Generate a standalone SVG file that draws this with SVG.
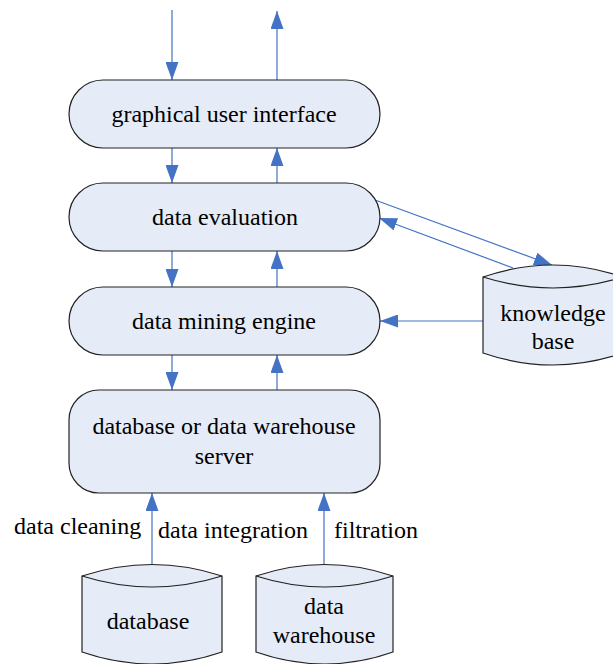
<svg xmlns="http://www.w3.org/2000/svg" width="613" height="664" viewBox="0 0 613 664">
  <style>
    .box { fill: #E6ECF7; stroke: #222; stroke-width: 1.2; }
    text { font-family: 'Liberation Serif', 'Times New Roman', serif; font-size: 24px; fill: #000; }
    .lbl { text-anchor: middle; }
    .wire { stroke: #4472C4; stroke-width: 1.2; fill: none; marker-end: url(#tip); }
  </style>
  <defs>
    <marker id="tip" viewBox="0 0 18 13" refX="18" refY="6.5" markerWidth="18" markerHeight="13" markerUnits="userSpaceOnUse" orient="auto">
      <path d="M0,0 L18,6.5 L0,13 Z" fill="#4472C4"/>
    </marker>
  </defs>
  <rect width="613" height="664" fill="#fff"/>

  <g id="connectors">
    <line class="wire" x1="172" y1="10" x2="172" y2="80"/>
    <line class="wire" x1="277" y1="80" x2="277" y2="11"/>
    <line class="wire" x1="172" y1="148" x2="172" y2="183"/>
    <line class="wire" x1="277" y1="183" x2="277" y2="148"/>
    <line class="wire" x1="172" y1="251" x2="172" y2="287"/>
    <line class="wire" x1="277" y1="287" x2="277" y2="251"/>
    <line class="wire" x1="172" y1="355" x2="172" y2="390"/>
    <line class="wire" x1="277" y1="390" x2="277" y2="355"/>
    <line class="wire" x1="375" y1="200" x2="552" y2="265"/>
    <line class="wire" x1="513" y1="268" x2="379" y2="218"/>
    <line class="wire" x1="483" y1="321" x2="380" y2="321"/>
    <line class="wire" x1="152" y1="566" x2="152" y2="493"/>
    <line class="wire" x1="324" y1="566" x2="324" y2="493"/>
  </g>

  <g id="gui">
    <rect class="box" x="69" y="80" width="311" height="68" rx="34"/>
    <text class="lbl" x="224" y="122">graphical user interface</text>
  </g>
  <g id="evaluation">
    <rect class="box" x="69" y="183" width="311" height="68" rx="34"/>
    <text class="lbl" x="225" y="225">data evaluation</text>
  </g>
  <g id="engine">
    <rect class="box" x="69" y="287" width="311" height="68" rx="34"/>
    <text class="lbl" x="224" y="329">data mining engine</text>
  </g>
  <g id="server">
    <rect class="box" x="69" y="390" width="311" height="103" rx="30"/>
    <text class="lbl" x="224" y="434">database or data warehouse</text>
    <text class="lbl" x="224" y="464">server</text>
  </g>

  <g id="knowledge-base">
    <path class="box" d="M483,277 Q553,253 623,277 L623,353 Q553,377 483,353 Z"/>
    <path class="box" d="M483,277 Q553,299 623,277" fill="none"/>
    <text class="lbl" x="553" y="321">knowledge</text>
    <text class="lbl" x="553" y="349">base</text>
  </g>

  <g id="database">
    <path class="box" d="M82,576 Q152,553 222,576 L222,652 Q152,676 82,652 Z"/>
    <path class="box" d="M82,576 Q152,598 222,576" fill="none"/>
    <text class="lbl" x="148" y="629">database</text>
  </g>

  <g id="warehouse">
    <path class="box" d="M256,576 Q325,553 393,576 L393,652 Q325,676 256,652 Z"/>
    <path class="box" d="M256,576 Q325,598 393,576" fill="none"/>
    <text class="lbl" x="324" y="614">data</text>
    <text class="lbl" x="324" y="643">warehouse</text>
  </g>

  <g id="edge-labels">
    <text x="14" y="534">data cleaning</text>
    <text x="158" y="538">data integration</text>
    <text x="334" y="538">filtration</text>
  </g>
</svg>
